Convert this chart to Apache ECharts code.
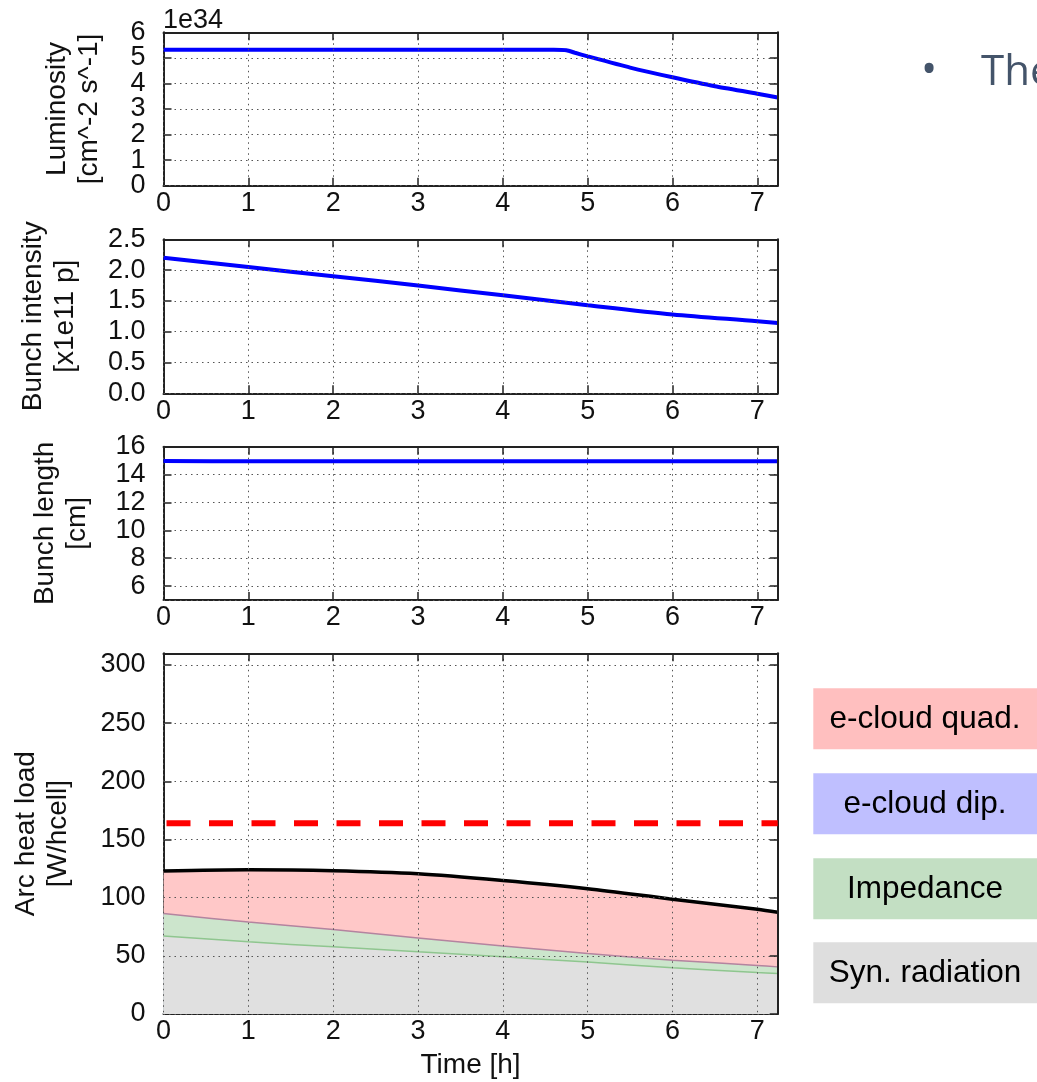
<!DOCTYPE html>
<html><head><meta charset="utf-8">
<script src="https://cdn.jsdelivr.net/npm/echarts@6/dist/echarts.min.js"></script>
<style>html,body{margin:0;padding:0;background:#fff}#c{width:1037px;height:1082px}</style>
</head><body><div id="c"></div>
<script>
// ---- data ----
const timeH = [0, 1, 2, 3, 4, 5, 6, 7, 7.24];
const lumTime = [0, 1, 2, 3, 4, 4.6, 4.75, 4.85, 5, 5.5, 6, 6.5, 7, 7.24];
const luminosity = [5.32, 5.32, 5.32, 5.32, 5.32, 5.32, 5.3, 5.2, 5.06, 4.62, 4.24, 3.89, 3.6, 3.45]; // x1e34
const bunchIntensity = [2.2, 2.05, 1.9, 1.75, 1.59, 1.43, 1.28, 1.17, 1.14];
const bunchLength = [14.98, 14.95, 14.95, 14.95, 14.95, 14.95, 14.95, 14.95, 14.95];
const synRad = [67.1, 62.0, 57.7, 53.4, 49.1, 44.6, 39.7, 35.7, 34.9];
const impedance = [19.2, 17.1, 14.9, 12.0, 9.4, 7.4, 6.6, 6.0, 5.6];
const ecloudDip = [0, 0, 0, 0, 0, 0, 0, 0, 0];
const ecloudQuad = [36.5, 44.9, 50.6, 55.2, 56.3, 55.7, 52.3, 48.3, 46.9];
const limitTime = [0, 7.24];
const heatLimit = [164, 164];
const legendLabels = ['e-cloud quad.', 'e-cloud dip.', 'Impedance', 'Syn. radiation'];
const lumTicks = {min: 0, max: 6, interval: 1};
const intTicks = {min: 0, max: 2.5, interval: 0.5};
const lenTicks = {min: 5, max: 16, splitNumber: 5};
const heatTicks = {min: 0, max: 310, interval: 50};

// ---- layout ----
const FONT = '"Liberation Sans", Arial, sans-serif';
const L = 163.5, W = 614.2;
const grids = [
  {left: L, top: 32.3, width: W, height: 153.4},
  {left: L, top: 239.3, width: W, height: 154},
  {left: L, top: 446.7, width: W, height: 153.3},
  {left: L, top: 653.3, width: W, height: 360.7}
];
const frame = {color: '#222', width: 2};
const dotted = {color: '#555', width: 1, type: [1.5, 4]};
const tick = {show: true, inside: true, length: 8, lineStyle: {color: '#222', width: 1.5}};
const labelStyle = {fontSize: 27, color: '#111', fontFamily: FONT};

const xAxes = [], yAxes = [];
function addAxes(gi, yt, fmt, yName, nameGap, hideMin, hideMax, extraX) {
  xAxes.push(Object.assign({
    gridIndex: gi, type: 'value', min: 0, max: 7.24, interval: 1,
    axisLine: {show: true, onZero: false, lineStyle: frame},
    axisTick: tick,
    axisLabel: Object.assign({margin: 8, showMaxLabel: false, lineHeight: 20}, labelStyle),
    splitLine: {show: false}
  }, extraX || {}));
  xAxes.push({
    gridIndex: gi, type: 'value', min: 0, max: 7.24, interval: 1, position: 'top', z: 5,
    axisLine: {show: true, onZero: false, lineStyle: frame},
    axisTick: tick,
    axisLabel: {show: false},
    splitLine: {show: true, lineStyle: dotted}
  });
  const yBase = {gridIndex: gi, type: 'value', min: yt.min, max: yt.max};
  if (yt.interval) yBase.interval = yt.interval;
  if (yt.splitNumber) yBase.splitNumber = yt.splitNumber;
  yAxes.push(Object.assign({}, yBase, {
    position: 'left',
    name: yName, nameLocation: 'middle', nameGap: nameGap,
    nameTextStyle: {fontSize: 28, color: '#111', fontFamily: FONT, lineHeight: 32, align: 'center'},
    axisLine: {show: true, onZero: false, lineStyle: frame},
    axisTick: tick,
    axisLabel: Object.assign({margin: 18, formatter: fmt, showMinLabel: !hideMin, showMaxLabel: !hideMax}, labelStyle),
    splitLine: {show: false}
  }));
  yAxes.push(Object.assign({}, yBase, {
    position: 'right', z: 5,
    axisLine: {show: true, onZero: false, lineStyle: frame},
    axisTick: tick,
    axisLabel: {show: false},
    splitLine: {show: true, lineStyle: dotted}
  }));
}
addAxes(0, lumTicks, v => String(v), 'Luminosity\n[cm^-2 s^-1]', 58, true, true);
addAxes(1, intTicks, v => v.toFixed(1), 'Bunch intensity\n[x1e11 p]', 82, false, false);
addAxes(2, lenTicks, v => String(v), 'Bunch length\n[cm]', 70, true, false);
addAxes(3, heatTicks, v => String(v), 'Arc heat load\n[W/hcell]', 89, false, true,
  {name: 'Time [h]', nameLocation: 'middle', nameGap: 37,
   nameTextStyle: {fontSize: 28, color: '#111', fontFamily: FONT}});
// extra left axis carrying only the end labels (0 and 6) of the luminosity panel,
// so the tightly spaced labels are not dropped by the overlap check
yAxes.push({
  gridIndex: 0, type: 'value', position: 'left', min: lumTicks.min, max: lumTicks.max,
  interval: lumTicks.max - lumTicks.min,
  axisLine: {show: false}, axisTick: {show: false}, splitLine: {show: false},
  axisLabel: Object.assign({margin: 18}, labelStyle)
});

const pair = (xs, ys) => xs.map((t, i) => [t, ys[i]]);
const blue = {color: '#0000ff', width: 4};

// cumulative boundaries of the stacked heat-load contributions
const cumSyn = synRad.slice();
const cumImp = cumSyn.map((v, i) => v + impedance[i]);
const cumDip = cumImp.map((v, i) => v + ecloudDip[i]);
const cumQuad = cumDip.map((v, i) => v + ecloudQuad[i]);

const series = [
  {type: 'line', xAxisIndex: 0, yAxisIndex: 0, data: pair(lumTime, luminosity), smooth: 0.2, showSymbol: false, lineStyle: blue, itemStyle: {color: '#0000ff'}, z: 3},
  {type: 'line', xAxisIndex: 2, yAxisIndex: 2, data: pair(timeH, bunchIntensity), smooth: 0.3, showSymbol: false, lineStyle: blue, itemStyle: {color: '#0000ff'}, z: 3},
  {type: 'line', xAxisIndex: 4, yAxisIndex: 4, data: pair(timeH, bunchLength), smooth: 0.3, showSymbol: false, lineStyle: blue, itemStyle: {color: '#0000ff'}, z: 3},
  {name: legendLabels[0], type: 'line', xAxisIndex: 6, yAxisIndex: 6, data: pair(timeH, cumQuad), smooth: 0.3, showSymbol: false,
    lineStyle: {color: '#000', width: 3.5}, areaStyle: {color: '#ffc8c8', opacity: 1}, itemStyle: {color: '#ffc8c8'}, z: 2},
  {name: legendLabels[1], type: 'line', xAxisIndex: 6, yAxisIndex: 6, data: pair(timeH, cumDip), smooth: 0.3, showSymbol: false,
    lineStyle: {width: 0, opacity: 0}, areaStyle: {color: '#bfbfff', opacity: 1}, itemStyle: {color: '#bfbfff'}, z: 2},
  {name: legendLabels[2], type: 'line', xAxisIndex: 6, yAxisIndex: 6, data: pair(timeH, cumImp), smooth: 0.3, showSymbol: false,
    lineStyle: {color: '#b4849f', width: 1.5}, areaStyle: {color: '#cce5cc', opacity: 1}, itemStyle: {color: '#cce5cc'}, z: 2},
  {name: legendLabels[3], type: 'line', xAxisIndex: 6, yAxisIndex: 6, data: pair(timeH, cumSyn), smooth: 0.3, showSymbol: false,
    lineStyle: {color: '#8fc68f', width: 1.5}, areaStyle: {color: '#e0e0e0', opacity: 1}, itemStyle: {color: '#e0e0e0'}, z: 2},
  {type: 'line', xAxisIndex: 6, yAxisIndex: 6, data: pair(limitTime, heatLimit), showSymbol: false,
    lineStyle: {color: '#ff0000', width: 6, type: [24, 18.5], dashOffset: -3}, itemStyle: {color: '#ff0000'}, z: 6}
];

const legendColors = ['#ffbfbf', '#bfbfff', '#c3dfc3', '#dedede'];
const legendTops = [688.3, 773.3, 858.3, 942.3];
const graphic = [
  {type: 'text', left: 163, top: 7, style: {text: '1e34', fontSize: 27, fill: '#111', fontFamily: FONT}},
  {type: 'text', x: 929, y: 72, style: {text: '\u2022', fontSize: 43, fill: '#44546a', fontFamily: '"Open Sans", sans-serif', align: 'center', verticalAlign: 'middle'}},
  {type: 'text', x: 981, y: 73, style: {text: 'The', fontSize: 42, fill: '#44546a', fontFamily: '"Open Sans", sans-serif', align: 'left', verticalAlign: 'middle'}}
];
legendLabels.forEach((lab, i) => {
  graphic.push({type: 'rect', shape: {x: 813.3, y: legendTops[i], width: 224, height: 61}, style: {fill: legendColors[i]}});
  graphic.push({type: 'text', x: 925, y: legendTops[i] + 31, style: {text: lab, fontSize: 31.5, fill: '#000', fontFamily: FONT, align: 'center', verticalAlign: 'middle'}});
});

const chart = echarts.init(document.getElementById('c'), null, {renderer: 'canvas'});
chart.setOption({
  animation: false,
  backgroundColor: '#fff',
  grid: grids,
  xAxis: xAxes,
  yAxis: yAxes,
  series: series,
  graphic: graphic
});
</script></body></html>
